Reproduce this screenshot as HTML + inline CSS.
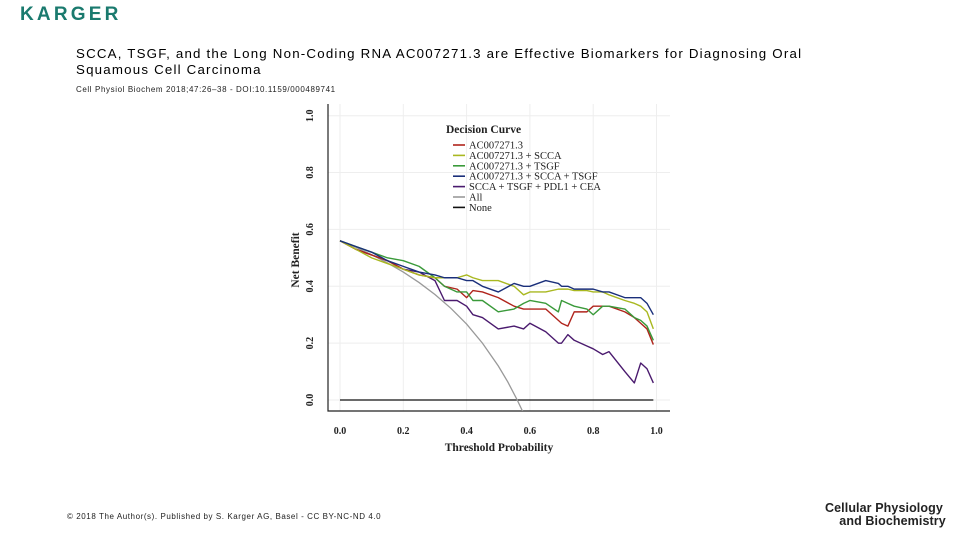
<!DOCTYPE html>
<html><head><meta charset="utf-8"><style>
body{margin:0;width:960px;height:540px;background:#fff;position:relative;overflow:hidden;font-family:"Liberation Sans",sans-serif}
.abs{position:absolute;white-space:nowrap}
</style></head><body>
<div class="abs" style="left:20px;top:4px;font-size:19px;color:#1a7a6e;letter-spacing:3.2px;font-weight:bold">KARGER</div>
<div class="abs" style="left:76px;top:46px;font-size:13.3px;line-height:16px;color:#000;letter-spacing:1.2px">SCCA, TSGF, and the Long Non-Coding RNA AC007271.3 are Effective Biomarkers for Diagnosing Oral<br>Squamous Cell Carcinoma</div>
<div class="abs" style="left:76px;top:85px;font-size:8px;color:#222;letter-spacing:0.6px">Cell Physiol Biochem 2018;47:26–38 - DOI:10.1159/000489741</div>
<div class="abs" style="left:67px;top:512px;font-size:8px;color:#222;letter-spacing:0.57px">© 2018 The Author(s). Published by S. Karger AG, Basel - CC BY-NC-ND 4.0</div>
<div class="abs" style="left:825px;top:502px;font-size:12.5px;line-height:13px;color:#222;letter-spacing:0.1px;font-weight:bold">Cellular Physiology<br>&nbsp;&nbsp;&nbsp;&nbsp;and Biochemistry</div>
<svg id="chart" width="960" height="540" style="position:absolute;left:0;top:0" font-family="Liberation Serif, serif"></svg>
<script>
const thresholds=[0,0.05,0.1,0.15,0.2,0.25,0.3,0.33,0.37,0.4,0.42,0.45,0.5,0.55,0.58,0.6,0.65,0.69,0.7,0.72,0.74,0.78,0.8,0.83,0.85,0.9,0.93,0.95,0.97,0.99];
const sRed=[0.56,0.53,0.51,0.49,0.46,0.44,0.43,0.40,0.39,0.36,0.385,0.38,0.36,0.33,0.32,0.32,0.32,0.28,0.27,0.26,0.31,0.31,0.33,0.33,0.33,0.31,0.29,0.27,0.25,0.195];
const sYel=[0.56,0.53,0.50,0.48,0.46,0.44,0.43,0.43,0.43,0.44,0.43,0.42,0.42,0.40,0.37,0.38,0.38,0.39,0.39,0.39,0.385,0.385,0.38,0.38,0.37,0.35,0.34,0.33,0.31,0.25];
const sGrn=[0.56,0.54,0.52,0.50,0.49,0.47,0.43,0.40,0.38,0.38,0.35,0.35,0.31,0.32,0.34,0.35,0.34,0.31,0.35,0.34,0.33,0.32,0.30,0.33,0.33,0.32,0.29,0.28,0.26,0.21];
const sBlu=[0.56,0.54,0.52,0.49,0.47,0.45,0.44,0.43,0.43,0.42,0.42,0.40,0.38,0.41,0.40,0.40,0.42,0.41,0.40,0.40,0.39,0.39,0.39,0.38,0.38,0.36,0.36,0.36,0.34,0.30];
const sPur=[0.56,0.53,0.51,0.49,0.46,0.45,0.42,0.35,0.35,0.33,0.30,0.29,0.25,0.26,0.25,0.27,0.24,0.20,0.20,0.23,0.21,0.19,0.18,0.16,0.17,0.10,0.06,0.13,0.11,0.06];
const allT=[0,0.05,0.1,0.15,0.2,0.25,0.3,0.35,0.4,0.45,0.5,0.53,0.56,0.58];
const allV=[0.56,0.537,0.511,0.482,0.45,0.413,0.371,0.323,0.267,0.2,0.12,0.064,0,-0.047];
const ticks=[0,0.2,0.4,0.6,0.8,1.0];
const tickLabels=["0.0","0.2","0.4","0.6","0.8","1.0"];
const legendLabels=["AC007271.3","AC007271.3 + SCCA","AC007271.3 + TSGF","AC007271.3 + SCCA + TSGF","SCCA + TSGF + PDL1 + CEA","All","None"];
const legendColors=["#b0241c","#a9b820","#3a9a3a","#1a2f7a","#4a1a6e","#999","#111"];

const svg=document.getElementById('chart');const NS='http://www.w3.org/2000/svg';
const X=t=>340+316.5*t, Y=v=>400-284.3*v;
function mk(tag,a,p){const e=document.createElementNS(NS,tag);for(const k in a)e.setAttribute(k,a[k]);(p||svg).appendChild(e);return e;}
const clip=mk('clipPath',{id:'pc'});mk('rect',{x:328,y:104,width:342,height:307},clip);
ticks.forEach((t,i)=>{
 let g=mk('line',{x1:X(t),x2:X(t),y1:104,y2:411,stroke:'#eee','stroke-width':1});
 
 g=mk('line',{x1:328,x2:670,y1:Y(t),y2:Y(t),stroke:'#eee','stroke-width':1});
 
 let tx=mk('text',{x:X(t),y:434,'font-size':10,'font-weight':'bold','text-anchor':'middle',fill:'#222'});tx.textContent=tickLabels[i];
 
 let ty=mk('text',{x:0,y:0,'font-size':10,'font-weight':'bold','text-anchor':'middle',fill:'#222',transform:`translate(313,${Y(t)}) rotate(-90)`});ty.textContent=tickLabels[i];
 
});
let ax=mk('path',{d:'M328,104 V411 H670',fill:'none',stroke:'#222','stroke-width':1.2});

let none=mk('line',{x1:X(0),x2:X(0.99),y1:Y(0),y2:Y(0),stroke:'#111','stroke-width':1.3});

let ap=mk('path',{d:allT.map((t,i)=>(i?'L':'M')+X(t)+','+Y(allV[i])).join(''),fill:'none',stroke:'#999','stroke-width':1.3,'clip-path':'url(#pc)'});

const series=[[sPur,4,'series-scca-tsgf-pdl1-cea'],[sRed,0,'series-ac007271'],[sGrn,2,'series-ac-tsgf'],[sYel,1,'series-ac-scca'],[sBlu,3,'series-ac-scca-tsgf']];
series.forEach(([vals,ci,nm])=>{
 const p=mk('path',{d:thresholds.map((t,i)=>(i?'L':'M')+X(t)+','+Y(vals[i])).join(''),fill:'none',stroke:legendColors[ci],'stroke-width':1.4,'stroke-linejoin':'round'});
 
});
let lt=mk('text',{x:446,y:133,'font-size':11.5,'font-weight':'bold',fill:'#222'});lt.textContent='Decision Curve';

legendLabels.forEach((l,i)=>{
 const y=145+i*10.4;
 const g=mk('g',{});
 mk('line',{x1:453,x2:465,y1:y,y2:y,stroke:legendColors[i],'stroke-width':1.6},g);
 const t=mk('text',{x:469,y:y+3.5,'font-size':10.5,fill:'#222'},g);t.textContent=l;
});
let xt=mk('text',{x:499,y:451,'font-size':11.5,'font-weight':'bold','text-anchor':'middle',fill:'#222'});xt.textContent='Threshold Probability';

let yt=mk('text',{x:0,y:0,'font-size':11.5,'font-weight':'bold','text-anchor':'middle',fill:'#222',transform:'translate(299,260) rotate(-90)'});yt.textContent='Net Benefit';

</script>
</body></html>
